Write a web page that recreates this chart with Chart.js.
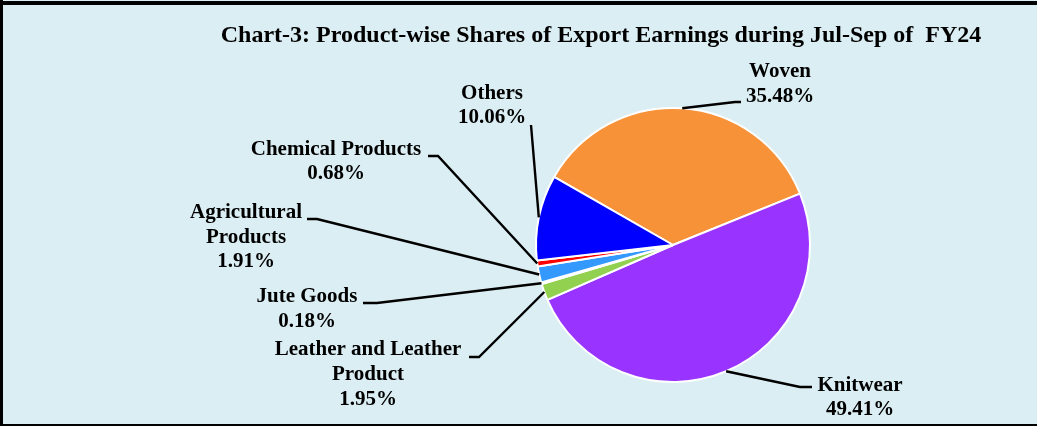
<!DOCTYPE html>
<html>
<head>
<meta charset="utf-8">
<script src="https://cdn.jsdelivr.net/npm/chart.js@4.4.1/dist/chart.umd.min.js"></script>
<style>
  html, body { margin: 0; padding: 0; background: #DBEEF3; }
  #wrap { width: 1037px; height: 426px; position: relative; }
</style>
</head>
<body>
<div id="wrap"><canvas id="c" width="1037" height="426"></canvas></div>
<script>
// ---- data ----
const chartTitle = "Chart-3: Product-wise Shares of Export Earnings during Jul-Sep of  FY24";
const categories = [
  ["Woven"],
  ["Knitwear"],
  ["Leather and Leather", "Product"],
  ["Jute Goods"],
  ["Agricultural", "Products"],
  ["Chemical Products"],
  ["Others"]
];
const shares = [35.48, 49.41, 1.95, 0.18, 1.91, 0.68, 10.06];
const sliceColors = ["#F79239", "#9933FF", "#92D050", "#F2DCDB", "#3399FF", "#FF0000", "#0000FF"];

// ---- label layout (leader-line elbows and text anchors) ----
const labelLayout = [
  { path: [[735, 102], [741, 102]], textX: 780, lineYs: [72, 97] },
  { path: [[800, 387], [812, 387]], textX: 860, lineYs: [386, 410] },
  { path: [[479, 357], [469, 357]], textX: 368, lineYs: [350, 375, 400] },
  { path: [[377, 303], [363, 303]], textX: 307, lineYs: [297, 322] },
  { path: [[317, 219], [307, 219]], textX: 246, lineYs: [213, 238, 262] },
  { path: [[438, 156], [428, 156]], textX: 336, lineYs: [150, 174] },
  { path: [[531, 125]], textX: 492, lineYs: [94, 118] }
];

const FONT = "bold 21px 'Liberation Serif', 'Times New Roman', serif";
const TITLE_FONT = "bold 24px 'Liberation Serif', 'Times New Roman', serif";

const framePlugin = {
  id: 'frame',
  beforeDraw(chart) {
    const ctx = chart.ctx;
    ctx.save();
    ctx.fillStyle = '#DBEEF3';
    ctx.fillRect(0, 0, chart.width, chart.height);
    ctx.fillStyle = '#000000';
    ctx.fillRect(0, 1, chart.width, 4);
    ctx.fillRect(0, 0, 3, chart.height);
    ctx.fillRect(0, chart.height - 2, chart.width, 2);
    ctx.restore();
  }
};

const labelPlugin = {
  id: 'leaderLabels',
  afterDraw(chart) {
    const ctx = chart.ctx;
    const meta = chart.getDatasetMeta(0);
    const values = chart.data.datasets[0].data;
    ctx.save();
    // title
    ctx.font = TITLE_FONT;
    ctx.fillStyle = '#000';
    ctx.textAlign = 'center';
    ctx.textBaseline = 'middle';
    ctx.fillText(chartTitle, 601, 36);

    meta.data.forEach((arc, i) => {
      const p = arc.getProps(['x', 'y', 'startAngle', 'endAngle', 'outerRadius'], true);
      const mid = (p.startAngle + p.endAngle) / 2;
      const sx = p.x + Math.cos(mid) * p.outerRadius;
      const sy = p.y + Math.sin(mid) * p.outerRadius;
      const lay = labelLayout[i];
      ctx.beginPath();
      ctx.strokeStyle = '#000';
      ctx.lineWidth = 2.4;
      ctx.lineJoin = 'miter';
      ctx.moveTo(sx, sy);
      lay.path.forEach(pt => ctx.lineTo(pt[0], pt[1]));
      ctx.stroke();

      const lines = chart.data.labels[i].concat([values[i].toFixed(2) + '%']);
      ctx.font = FONT;
      ctx.fillStyle = '#000';
      ctx.textAlign = 'center';
      ctx.textBaseline = 'middle';
      lines.forEach((t, k) => ctx.fillText(t, lay.textX, lay.lineYs[k]));
    });
    ctx.restore();
  }
};

new Chart(document.getElementById('c'), {
  type: 'pie',
  data: {
    labels: categories,
    datasets: [{
      data: shares,
      backgroundColor: sliceColors,
      borderColor: '#FFFFFF',
      borderWidth: 2
    }]
  },
  options: {
    responsive: false,
    animation: false,
    events: [],
    rotation: -60.2,
    radius: 137,
    layout: { padding: { left: 530, right: 221, top: 102, bottom: 38 } },
    plugins: {
      legend: { display: false },
      title: { display: false },
      tooltip: { enabled: false }
    }
  },
  plugins: [framePlugin, labelPlugin]
});
</script>
</body>
</html>
